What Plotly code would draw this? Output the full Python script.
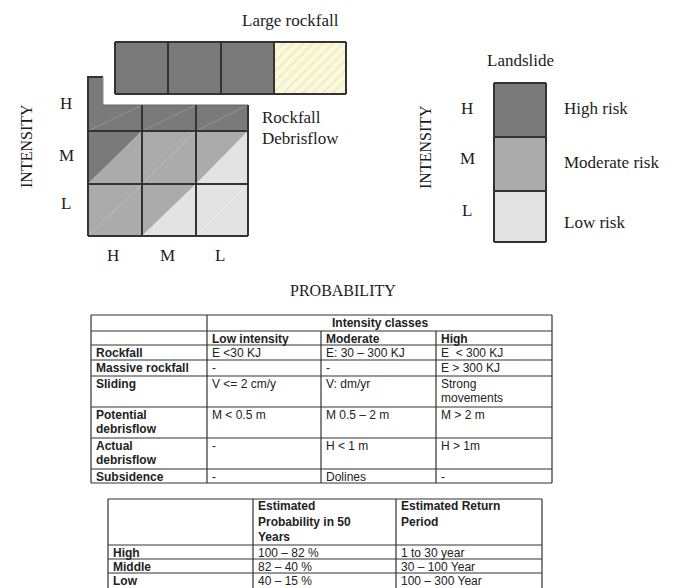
import plotly.graph_objects as go

W, H = 678, 588

# ---------------- data ----------------
prob_labels = ["H", "M", "L"]
intensity_labels = ["H", "M", "L"]
# risk level per cell (rows: intensity H->L, cols: probability H->L)
# each cell is split by a diagonal: upper-left half / lower-right half
risk_upper = [[3, 3, 3], [3, 2, 2], [2, 2, 1]]
risk_lower = [[3, 3, 3], [2, 2, 1], [2, 1, 1]]
large_rockfall_levels = [3, 3, 3, 0]   # 0 = hatched cell
landslide_levels = [3, 2, 1]
landslide_labels = ["High risk", "Moderate risk", "Low risk"]

t1_header_top = "Intensity classes"
t1_columns = ["Low intensity", "Moderate", "High"]
t1_rows = ["Rockfall", "Massive rockfall", "Sliding", "Potential\ndebrisflow",
           "Actual\ndebrisflow", "Subsidence"]
t1_low = ["E <30 KJ", "-", "V <= 2 cm/y", "M < 0.5 m", "-", "-"]
t1_mod = ["E: 30 – 300 KJ", "-", "V: dm/yr", "M 0.5 – 2 m", "H < 1 m", "Dolines"]
t1_high = ["E  < 300 KJ", "E > 300 KJ", "Strong\nmovements", "M > 2 m", "H > 1m", "-"]

t2_columns = ["Estimated\nProbability in 50\nYears", "Estimated Return\nPeriod"]
t2_rows = ["High", "Middle", "Low"]
t2_prob = ["100 – 82 %", "82 – 40 %", "40 – 15 %"]
t2_period = ["1 to 30 year", "30 – 100 Year", "100 – 300 Year"]

# ---------------- geometry / style ----------------
LEVEL_COLOR = {3: "#7a7a7a", 2: "#ababab", 1: "#e3e3e3"}
HATCH_BG, HATCH_FG = "#fbf8dc", "#d9d49a"
EDGE = "#333333"
SERIF = "Liberation Serif"
SANS = "Liberation Sans"
TXT = "#1c1c1c"

grid_x = [88, 142, 196, 248]
grid_y = [105, 131, 184, 236]
notch_x1, notch_top = 103, 77
top_box_x = [115, 168, 221, 274, 346]
top_box_y = [42, 94]
leg_x = [494, 546]
leg_y = [83, 137, 191, 242]
t1_x = [91, 207, 321, 436, 552]
t1_y = [315, 331, 345, 360, 376, 407, 438, 469, 483]
t2_x = [108, 253, 396, 542]
t2_y = [499, 545, 559, 573, 592]

fig = go.Figure()
shapes = []
annotations = []


def poly(xs, ys, color, pattern=None):
    kw = dict(x=list(xs) + [xs[0]], y=list(ys) + [ys[0]], mode="lines",
              fill="toself", fillcolor=color, line=dict(width=0, color=color),
              hoverinfo="skip", showlegend=False)
    if pattern is not None:
        kw["fillpattern"] = pattern
    fig.add_trace(go.Scatter(**kw))


def seg(x0, y0, x1, y1, width=2, color=EDGE):
    shapes.append(dict(type="line", xref="x", yref="y", x0=x0, y0=y0, x1=x1, y1=y1,
                       line=dict(color=color, width=width)))


def text(x, y, s, size=17, font=SERIF, bold=False, xanchor="left", yanchor="middle",
         angle=0, color=TXT):
    if bold:
        s = "<b>" + s + "</b>"
    annotations.append(dict(x=x, y=y, xref="x", yref="y", text=s, showarrow=False,
                            xanchor=xanchor, yanchor=yanchor, textangle=angle,
                            font=dict(family=font, size=size, color=color)))


# ---------------- large rockfall row ----------------
for i, lvl in enumerate(large_rockfall_levels):
    x0, x1 = top_box_x[i], top_box_x[i + 1]
    y0, y1 = top_box_y
    if lvl == 0:
        poly([x0, x1, x1, x0], [y0, y0, y1, y1], HATCH_BG,
             pattern=dict(shape="/", fgcolor=HATCH_FG, bgcolor=HATCH_BG, size=7, solidity=0.2))
    else:
        poly([x0, x1, x1, x0], [y0, y0, y1, y1], LEVEL_COLOR[lvl])
for xv in top_box_x:
    seg(xv, top_box_y[0], xv, top_box_y[1])
seg(top_box_x[0], top_box_y[0], top_box_x[-1], top_box_y[0])
seg(top_box_x[0], top_box_y[1], top_box_x[-1], top_box_y[1])
text((top_box_x[0] + top_box_x[-1]) / 2 + 60, 20, "Large rockfall", xanchor="center")

# ---------------- rockfall / debrisflow matrix ----------------
poly([grid_x[0], notch_x1, notch_x1, grid_x[0]], [notch_top, notch_top, grid_y[0], grid_y[0]],
     LEVEL_COLOR[risk_upper[0][0]])
for r in range(3):
    for c in range(3):
        x0, x1 = grid_x[c], grid_x[c + 1]
        y0, y1 = grid_y[r], grid_y[r + 1]
        poly([x0, x1, x0], [y0, y0, y1], LEVEL_COLOR[risk_upper[r][c]])
        poly([x1, x1, x0], [y0, y1, y1], LEVEL_COLOR[risk_lower[r][c]])
# grid lines
seg(grid_x[0], notch_top, grid_x[0], grid_y[-1])
seg(grid_x[0] - 1, notch_top, notch_x1, notch_top)
seg(notch_x1, notch_top, notch_x1, grid_y[0], width=1, color="#888888")
seg(notch_x1, grid_y[0], grid_x[-1], grid_y[0], width=1, color="#666666")
seg(grid_x[-1], grid_y[0], grid_x[-1], grid_y[-1])
seg(grid_x[0], grid_y[-1], grid_x[-1], grid_y[-1])
for xv in grid_x[1:-1]:
    seg(xv, grid_y[0], xv, grid_y[-1])
for yv in grid_y[1:-1]:
    seg(grid_x[0], yv, grid_x[-1], yv)
# labels
row_mid = [103, 155, 203]
for lab, yv in zip(intensity_labels, row_mid):
    text(66, yv, lab, xanchor="center")
for c, lab in enumerate(prob_labels):
    text((grid_x[c] + grid_x[c + 1]) / 2 - 2, 255, lab, xanchor="center")
text(26, 146, "INTENSITY", angle=-90, xanchor="center", size=16)
text(260, 117, "Rockfall")
text(260, 138, "Debrisflow")
text(343, 290, "PROBABILITY", xanchor="center", size=16)

# ---------------- landslide legend ----------------
for i, lvl in enumerate(landslide_levels):
    poly([leg_x[0], leg_x[1], leg_x[1], leg_x[0]], [leg_y[i], leg_y[i], leg_y[i + 1], leg_y[i + 1]],
         LEVEL_COLOR[lvl])
for yv in leg_y:
    seg(leg_x[0], yv, leg_x[1], yv)
seg(leg_x[0], leg_y[0], leg_x[0], leg_y[-1])
seg(leg_x[1], leg_y[0], leg_x[1], leg_y[-1])
text((leg_x[0] + leg_x[1]) / 2, 60, "Landslide", xanchor="center")
text(425, 147, "INTENSITY", angle=-90, xanchor="center", size=16)
for lab, yv in zip(intensity_labels, [108, 158, 210]):
    text(467, yv, lab, xanchor="center")
for lab, yv in zip(landslide_labels, [108, 162, 222]):
    text(562, yv, lab)

# ---------------- table 1 ----------------
TW = 1.2
for yv in t1_y:
    seg(t1_x[0], yv, t1_x[-1], yv, width=TW)
seg(t1_x[0], t1_y[0], t1_x[0], t1_y[-1], width=TW)
seg(t1_x[1], t1_y[0], t1_x[1], t1_y[-1], width=TW)
seg(t1_x[-1], t1_y[0], t1_x[-1], t1_y[-1], width=TW)
for xv in t1_x[2:-1]:
    seg(xv, t1_y[1], xv, t1_y[-1], width=TW)

LS = 14.5


def cell(x, ytop, s, bold=False):
    for k, line in enumerate(s.split("\n")):
        text(x + 3, ytop + 7.5 + k * LS, line, size=12, font=SANS, bold=bold, color="#222222")


text((t1_x[1] + t1_x[-1]) / 2, (t1_y[0] + t1_y[1]) / 2, t1_header_top, size=12, font=SANS,
     bold=True, xanchor="center", color="#222222")
for c, lab in enumerate(t1_columns):
    cell(t1_x[c + 1], t1_y[1], lab, bold=True)
for r, lab in enumerate(t1_rows):
    ytop = t1_y[r + 2]
    cell(t1_x[0], ytop, lab, bold=True)
    cell(t1_x[1], ytop, t1_low[r])
    cell(t1_x[2], ytop, t1_mod[r])
    cell(t1_x[3], ytop, t1_high[r])

# ---------------- table 2 ----------------
for yv in t2_y[:-1]:
    seg(t2_x[0], yv, t2_x[-1], yv, width=TW)
for xv in t2_x:
    seg(xv, t2_y[0], xv, t2_y[-1], width=TW)
for c, lab in enumerate(t2_columns):
    for k, line in enumerate(lab.split("\n")):
        text(t2_x[c + 1] + 3, t2_y[0] + 7 + k * 15.5, "<b>" + line + "</b>", size=12, font=SANS,
             color="#222222")
for r, lab in enumerate(t2_rows):
    ytop = t2_y[r + 1]
    cell(t2_x[0], ytop, lab, bold=True)
    cell(t2_x[1], ytop, t2_prob[r])
    cell(t2_x[2], ytop, t2_period[r])

fig.update_layout(
    width=W, height=H,
    margin=dict(l=0, r=0, t=0, b=0),
    paper_bgcolor="white", plot_bgcolor="white",
    xaxis=dict(range=[0, W], visible=False, fixedrange=True),
    yaxis=dict(range=[H, 0], visible=False, fixedrange=True),
    shapes=shapes, annotations=annotations, showlegend=False,
)
fig.write_html("out.html", config={"displayModeBar": False},
               post_script="document.body.style.margin='0';document.body.style.overflow='hidden';")
